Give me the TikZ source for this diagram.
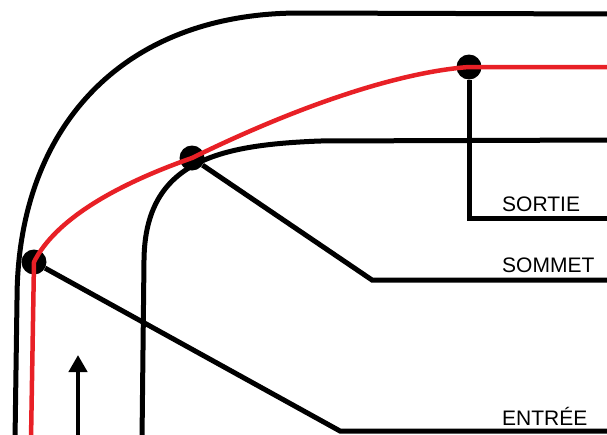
\documentclass[tikz,border=0pt]{standalone}
\usepackage{fontspec}
\setmainfont{Liberation Sans}
\usetikzlibrary{arrows.meta}
\definecolor{lineRed}{RGB}{232,32,38}

\begin{document}
\begin{tikzpicture}[x=1pt, y=-1pt,
    road/.style={line width=5pt, black, line cap=round},
    racing/.style={line width=4.5pt, lineRed},
    leader/.style={line width=5pt, black},
    apex/.style={circle, fill=black, minimum size=25pt, inner sep=0pt},
    lbl/.style={anchor=base west, font=\fontsize{21}{25}\selectfont, inner sep=0pt}]

    % Frame
    \def\rightEdge{607}
    \def\lblX{502}
    \useasboundingbox (0,0) rectangle (\rightEdge,434);

    % =========================================================================
    % Road edges
    % =========================================================================
    \draw[road] (15,440) -- (17,300) .. controls (17,130) and (120,13) .. (300,13) -- (\rightEdge+5,14);
    \draw[road] (142,440) -- (144,260) .. controls (145,160) and (220,145) .. (320,141) -- (\rightEdge+5,140);

    % =========================================================================
    % Points of the line
    % =========================================================================
    \node[apex] (entree) at (34,262) {};
    \node[apex] (sommet) at (192,158) {};
    \node[apex] (sortie) at (469,67) {};

    % Leader lines
    \coordinate (sortieBend) at (469,218);
    \coordinate (sortieEnd) at (\rightEdge+5,218);
    \coordinate (sommetBend) at (372,280);
    \coordinate (sommetEnd) at (\rightEdge+5,280);
    \coordinate (entreeBend) at (340,431);
    \coordinate (entreeEnd) at (\rightEdge+5,431);

    \draw[leader] (sortie) -- (sortieBend) -- (sortieEnd);
    \draw[leader] (sommet) -- (sommetBend) -- (sommetEnd);
    \draw[leader] (entree) -- (entreeBend) -- (entreeEnd);

    % =========================================================================
    % Racing line
    % =========================================================================
    \draw[racing] (31,440) -- (entree.center)
        .. controls (55,220) and (115,185) .. (sommet.center)
        .. controls (300,105) and (400,72) .. (sortie.center) -- (\rightEdge+5,67);

    % Direction of travel
    \coordinate (dirStart) at (78,440);
    \coordinate (dirTip) at (78,355);
    \draw[line width=4.5pt, -{Triangle[width=18pt, length=17pt]}] (dirStart) -- (dirTip);

    % =========================================================================
    % Labels
    % =========================================================================
    \node[lbl] (lblSortie) at (\lblX,211) {SORTIE};
    \node[lbl] (lblSommet) at (\lblX,272) {SOMMET};
    \node[lbl] (lblEntree) at (\lblX,425) {ENTRÉE};

\end{tikzpicture}
\end{document}
